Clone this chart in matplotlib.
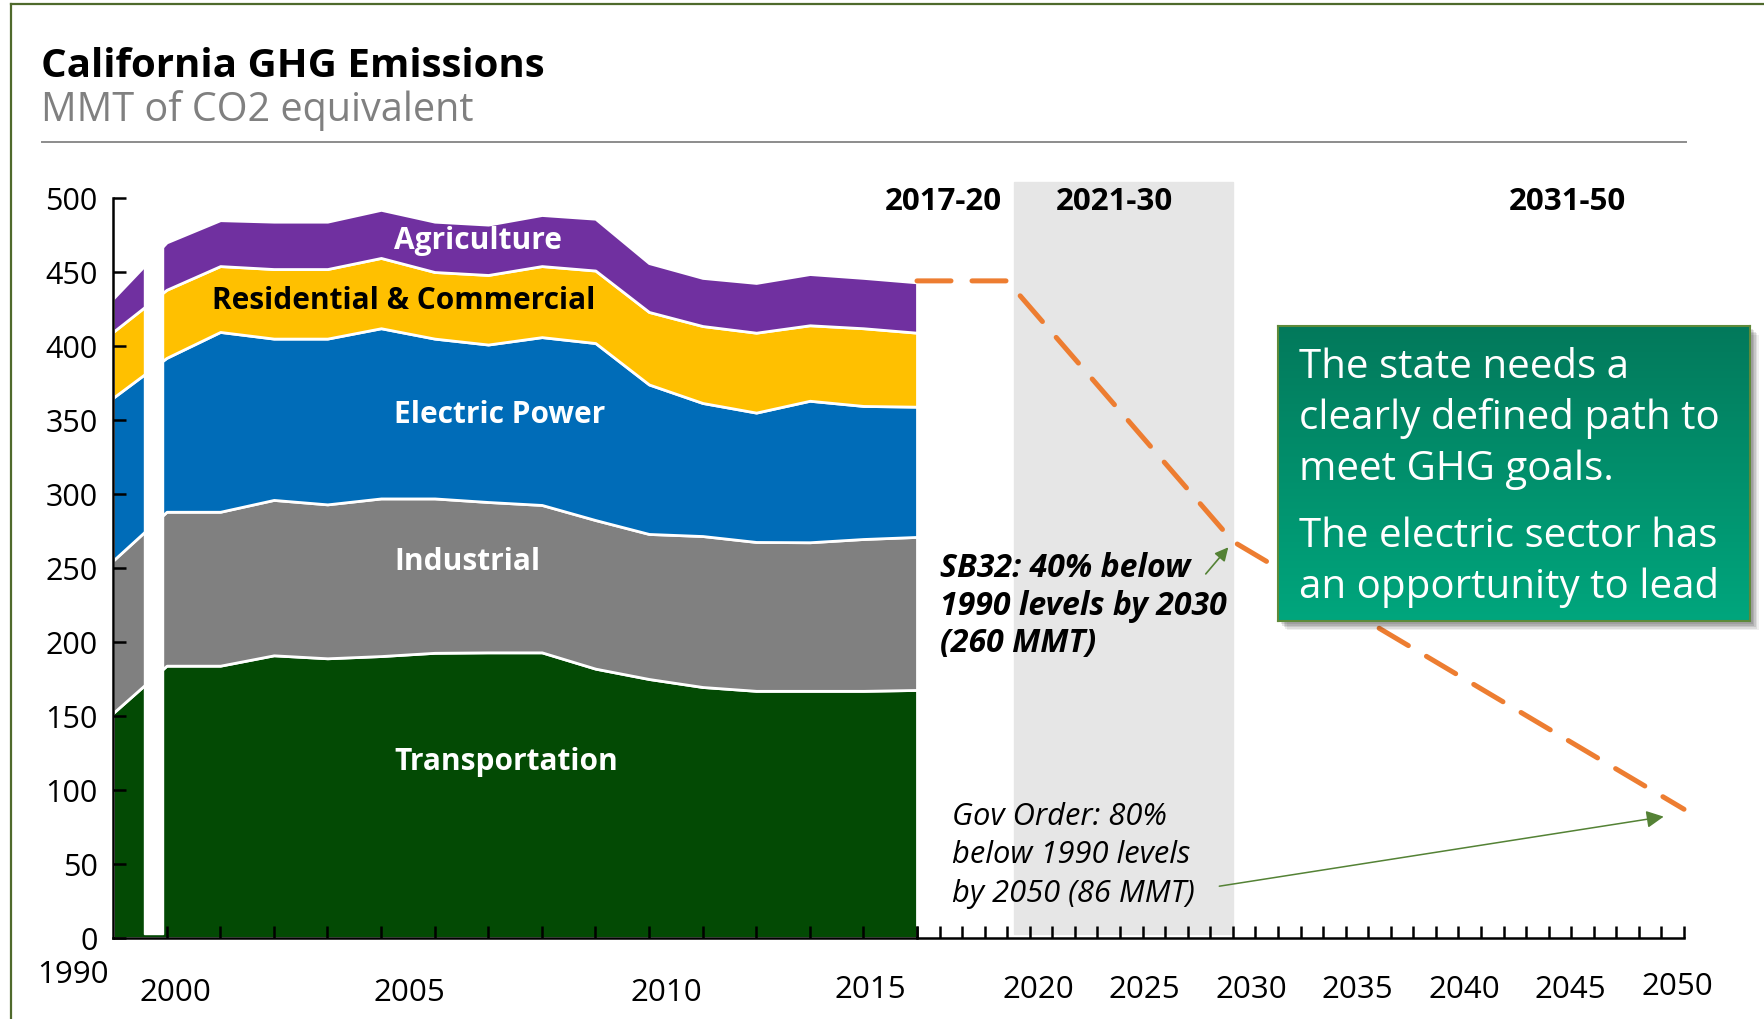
import numpy as np
import matplotlib
matplotlib.use("Agg")
import matplotlib.pyplot as plt
from matplotlib.colors import LinearSegmentedColormap
from matplotlib.patches import Rectangle
from matplotlib.lines import Line2D

plt.rcParams['font.family'] = ['Open Sans', 'DejaVu Sans']

# historical inventory, MMT CO2e
years = [1990, 2000, 2001, 2002, 2003, 2004, 2005, 2006, 2007,
         2008, 2009, 2010, 2011, 2012, 2013, 2014]
transportation = [152, 184, 184, 191, 189, 190.5, 192.7, 193, 193,
                  182, 175, 169.6, 167, 167, 167, 167.6]
industrial = [103, 104, 104, 105, 104, 106.5, 104.3, 101.6, 99.6,
              100.4, 98, 102, 100.6, 100.4, 102.6, 103.4]
electric = [110, 104, 121.5, 109, 112, 115, 108, 106.4, 113.4,
            119.6, 101, 89.9, 87.4, 95.6, 89.9, 88]
res_com = [44.5, 46, 44.5, 47, 47, 47.5, 45, 47, 48,
           49, 49, 52, 54, 51, 52.5, 50]
agriculture = [22.5, 32, 31, 32, 32, 32.5, 34, 34, 34.5,
               35, 33, 32.5, 33.6, 34.6, 34, 34]

sectors = ['Transportation', 'Industrial', 'Electric Power',
           'Residential & Commercial', 'Agriculture']
colors = ['#034A04', '#808080', '#006CB8', '#FFC000', '#7030A0']
label_colors = ['white', 'white', 'white', 'black', 'white']

# target path
target_years = [2016, 2020, 2030, 2050]
target_vals = [444, 444, 268, 87]

hist_labels = ['1990', '2000', '2005', '2010', '2015']
future_labels = ['2020', '2025', '2030', '2035', '2040', '2045', '2050']
periods = ['2017-20', '2021-30', '2031-50']
band = (2020.3, 2030.0)

W, H = 1765, 1019


def fx(x):
    return x / W


def fy(y):
    return 1 - y / H


fig = plt.figure(figsize=(W / 100, H / 100), dpi=100)

# frame and header
fig.add_artist(Line2D([fx(11), fx(11)], [fy(4), 0], color='#4F6A2C', lw=1.6))
fig.add_artist(Line2D([fx(11), 1], [fy(4), fy(4)], color='#4F6A2C', lw=1.6))
fig.add_artist(Line2D([fx(42), fx(1686)], [fy(142), fy(142)], color='#8C8C8C', lw=1.4))
fig.text(fx(41), fy(77), 'California GHG Emissions', fontsize=29,
         fontweight='bold', va='baseline')
fig.text(fx(41), fy(121), 'MMT of CO2 equivalent', fontsize=28.5,
         color='#808080', va='baseline')

# historical axes, 1990-2000 squeezed into one slot
fwd = lambda x: np.interp(x, [1990, 2000, 2014], [0, 1, 15])
inv = lambda p: np.interp(p, [0, 1, 15], [1990, 2000, 2014])
ax1 = fig.add_axes([fx(113), fy(938), fx(917) - fx(113), (938 - 198) / H])
ax1.set_xscale('function', functions=(fwd, inv))
ax1.stackplot(years, transportation, industrial, electric, res_com, agriculture,
              colors=colors, edgecolor='white', linewidth=2)
ax1.axvspan(1995.7, 1999.3, ymin=0.006, ymax=1, color='white', zorder=2)
ax1.set_xlim(1990, 2014)
ax1.set_ylim(0, 500)
ax1.set_xticks(years[1:])
ax1.set_xticklabels([])
ax1.set_yticks(np.arange(0, 501, 50))
ax1.tick_params(axis='both', direction='in', length=9, width=1.8,
                labelsize=22)
ax1.tick_params(axis='y', pad=11)
ax1.spines[['top', 'right']].set_visible(False)
ax1.spines[['left', 'bottom']].set_linewidth(1.8)
ax1.patch.set_alpha(0)

# future axes
ax2 = fig.add_axes([fx(917), fy(938), fx(1684) - fx(917), (938 - 198) / H])
ax2.set_xlim(2016, 2050)
ax2.set_ylim(0, 500)
ax2.axvspan(band[0], band[1], ymin=0.005, ymax=1.022, color='#E6E6E6',
            clip_on=False, zorder=0)
ax2.plot(target_years, target_vals, color='#ED7D31', lw=3.6,
         dashes=(6.8, 4.2), dash_capstyle='round', clip_on=False, zorder=3)
ax2.set_xticks(np.arange(2016, 2051))
ax2.set_xticklabels([])
ax2.set_yticks([])
ax2.tick_params(axis='x', direction='in', length=9, width=1.8)
ax2.spines[['top', 'right', 'left']].set_visible(False)
ax2.spines['bottom'].set_linewidth(1.8)
ax2.patch.set_alpha(0)

# axis year labels
hist_x = [73, 175, 409, 666, 870]
hist_base = [983, 1001, 1001, 1001, 998]
for lab, x, b in zip(hist_labels, hist_x, hist_base):
    fig.text(fx(x), fy(b), lab, fontsize=22.5, ha='center', va='baseline')
fut_x = np.linspace(1038, 1677, len(future_labels))
for i, (lab, x) in enumerate(zip(future_labels, fut_x)):
    fig.text(fx(x), fy(995 if i == len(future_labels) - 1 else 998), lab,
             fontsize=22.5, ha='center', va='baseline')

# period headings
for lab, x in zip(periods, [943, 1114, 1567]):
    fig.text(fx(x), fy(210), lab, fontsize=22.5, fontweight='bold',
             ha='center', va='baseline')

# sector labels
label_x = [394, 394, 394, 212, 394]
label_y = [762, 562, 415, 301, 241]
for name, c, x, y in zip(sectors, label_colors, label_x, label_y):
    fig.text(fx(x), fy(y), name, fontsize=21.5, fontweight='bold',
             color=c, ha='left', va='center')

# goal annotations
for line, b in zip(['SB32: 40% below', '1990 levels by 2030', '(260 MMT)'],
                   [577, 615, 652]):
    fig.text(fx(940), fy(b), line, fontsize=23, fontweight='bold',
             fontstyle='italic', va='baseline')
for line, b in zip(['Gov Order: 80%', 'below 1990 levels', 'by 2050 (86 MMT)'],
                   [825, 863, 902]):
    fig.text(fx(952), fy(b), line, fontsize=22.2, fontstyle='italic',
             va='baseline')

ax2.annotate('', xy=(2029.8, 264), xytext=(2028.8, 246),
             arrowprops=dict(arrowstyle='-|>', color='#548235', lw=1.2,
                             mutation_scale=20, shrinkA=0, shrinkB=0),
             annotation_clip=False)
ax2.annotate('', xy=(2049.1, 82), xytext=(2029.4, 35),
             arrowprops=dict(arrowstyle='-|>', color='#548235', lw=1.1,
                             mutation_scale=26, shrinkA=0, shrinkB=0),
             annotation_clip=False)

# callout box
bx0, by0, bx1, by1 = 1278, 326, 1750, 621
for k, a in enumerate([0.10, 0.10, 0.10, 0.08, 0.06]):
    off = 3 + k * 1.5
    fig.add_artist(Rectangle((fx(bx0 + off), fy(by1 + off)),
                             (bx1 - bx0) / W, (by1 - by0) / H,
                             transform=fig.transFigure, color='black',
                             alpha=a, lw=0, zorder=4))
box = fig.add_axes([fx(bx0), fy(by1), (bx1 - bx0) / W, (by1 - by0) / H])
box.set_zorder(5)
cmap = LinearSegmentedColormap.from_list('g', ['#03795B', '#00A67D'])
box.imshow(np.linspace(0, 1, 256).reshape(-1, 1), cmap=cmap, aspect='auto',
           extent=(0, 1, 0, 1))
box.set_xticks([])
box.set_yticks([])
for s in box.spines.values():
    s.set_color('#5E8A3A')
    s.set_linewidth(1.5)

box_lines = ['The state needs a', 'clearly defined path to', 'meet GHG goals.',
             'The electric sector has', 'an opportunity to lead']
for line, b in zip(box_lines, [378, 429, 480, 547, 598]):
    fig.text(fx(1299), fy(b), line, fontsize=29, color='white',
             va='baseline', zorder=6)

fig.savefig('out.png', dpi=100)
